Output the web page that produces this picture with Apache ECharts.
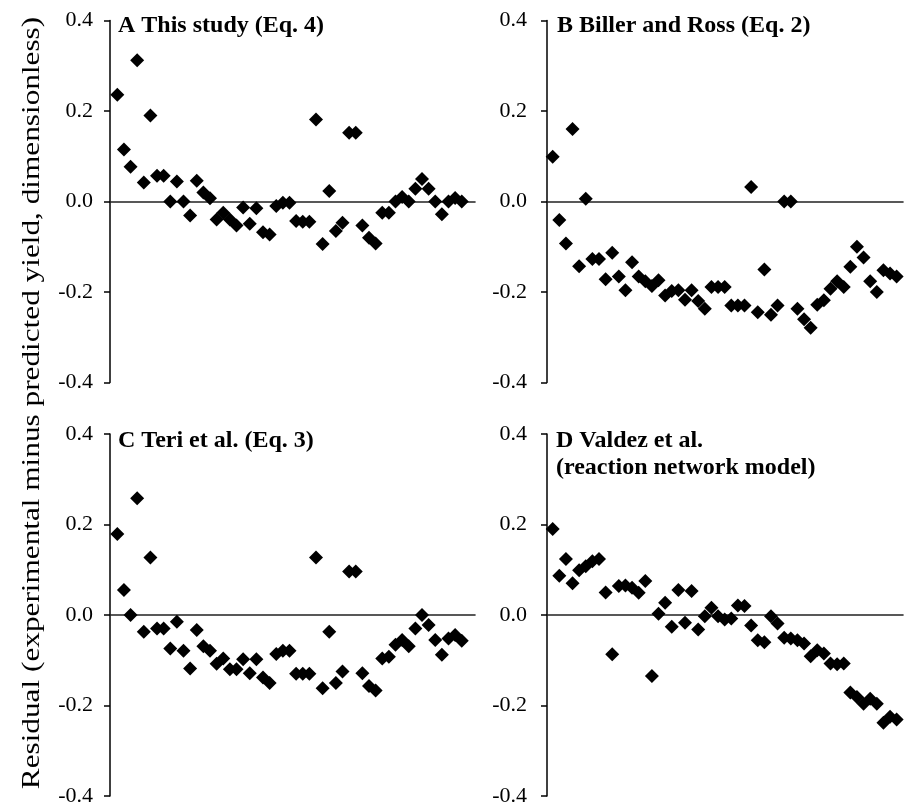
<!DOCTYPE html>
<html>
<head>
<meta charset="utf-8">
<script src="https://cdn.jsdelivr.net/npm/echarts@6/dist/echarts.min.js"></script>
<style>
html,body{margin:0;padding:0;background:#fff;}
#chart{width:907px;height:809px;}
</style>
</head>
<body>
<div id="chart"></div>
<script>
// Residuals (experimental minus predicted yield), one value per experiment, in plotted order
const residualA = [0.236, 0.115, 0.077, 0.312, 0.042, 0.19, 0.057, 0.057, 0.0, 0.044, 0.0, -0.031, 0.046, 0.02, 0.007, -0.04, -0.025, -0.04, -0.053, -0.013, -0.049, -0.015, -0.068, -0.073, -0.01, -0.003, -0.003, -0.043, -0.045, -0.045, 0.181, -0.094, 0.023, -0.065, -0.047, 0.152, 0.152, -0.053, -0.08, -0.093, -0.025, -0.025, 0.0, 0.01, 0.0, 0.028, 0.05, 0.028, 0.0, -0.028, 0.0, 0.008, 0.0];
const residualB = [0.099, -0.041, -0.093, 0.16, -0.143, 0.006, -0.127, -0.127, -0.172, -0.113, -0.166, -0.196, -0.134, -0.166, -0.176, -0.187, -0.174, -0.208, -0.198, -0.196, -0.217, -0.196, -0.22, -0.237, -0.189, -0.189, -0.189, -0.23, -0.23, -0.23, 0.032, -0.245, -0.15, -0.25, -0.23, 0.0, 0.0, -0.237, -0.26, -0.279, -0.228, -0.218, -0.193, -0.176, -0.189, -0.144, -0.1, -0.124, -0.176, -0.2, -0.152, -0.159, -0.166];
const residualC = [0.179, 0.055, 0.0, 0.258, -0.037, 0.127, -0.03, -0.03, -0.074, -0.015, -0.079, -0.118, -0.033, -0.069, -0.079, -0.108, -0.096, -0.12, -0.12, -0.098, -0.129, -0.098, -0.138, -0.15, -0.086, -0.079, -0.079, -0.13, -0.13, -0.13, 0.127, -0.162, -0.037, -0.15, -0.125, 0.096, 0.096, -0.129, -0.157, -0.167, -0.096, -0.092, -0.066, -0.055, -0.069, -0.03, 0.0, -0.022, -0.055, -0.088, -0.052, -0.044, -0.057];
const residualD = [0.19, 0.087, 0.124, 0.07, 0.099, 0.108, 0.119, 0.124, 0.05, -0.087, 0.064, 0.065, 0.06, 0.049, 0.075, -0.135, 0.003, 0.027, -0.026, 0.055, -0.017, 0.053, -0.032, -0.003, 0.016, -0.003, -0.01, -0.008, 0.021, 0.02, -0.023, -0.056, -0.06, -0.003, -0.019, -0.05, -0.052, -0.056, -0.063, -0.091, -0.078, -0.085, -0.107, -0.109, -0.107, -0.171, -0.181, -0.196, -0.185, -0.196, -0.238, -0.225, -0.231];

const panelTitles = ['A This study (Eq. 4)', 'B Biller and Ross (Eq. 2)', 'C Teri et al. (Eq. 3)', 'D Valdez et al.\n(reaction network model)'];
const yTicks = [-0.4, -0.2, 0.0, 0.2, 0.4];
const yAxisTitle = 'Residual (experimental minus predicted yield, dimensionless)';

const SERIF = "'Liberation Serif','Times New Roman',serif";
const panels = [residualA, residualB, residualC, residualD];

const grids = [
  {left: 110, top: 20.5, width: 365, height: 362},
  {left: 547, top: 20.5, width: 356, height: 362},
  {left: 110, top: 434, width: 365, height: 362},
  {left: 547, top: 434, width: 356, height: 362}
];
const xRanges = [[-1.1, 54.0], [-0.86, 52.96], [-1.1, 54.0], [-0.86, 52.96]];
const labelMargins = [17, 20, 17, 20];
const titlePos = [[118, 12], [557, 12], [118, 427], [556, 427]];

const option = {
  animation: false,
  backgroundColor: '#fff',
  title: panelTitles.map((t, i) => ({
    text: t,
    left: titlePos[i][0],
    top: titlePos[i][1],
    padding: 0,
    textStyle: {fontFamily: SERIF, fontWeight: 'bold', fontSize: 24, color: '#000', lineHeight: 27}
  })),
  grid: grids,
  xAxis: grids.map((g, i) => ({
    type: 'value',
    gridIndex: i,
    min: xRanges[i][0],
    max: xRanges[i][1],
    axisLine: {show: true, onZero: true, lineStyle: {color: '#222', width: 1.6}},
    axisTick: {show: false},
    axisLabel: {show: false},
    splitLine: {show: false}
  })),
  yAxis: grids.map((g, i) => ({
    type: 'value',
    gridIndex: i,
    min: yTicks[0],
    max: yTicks[yTicks.length - 1],
    interval: 0.2,
    axisLine: {show: true, onZero: false, lineStyle: {color: '#000', width: 1.5}},
    axisTick: {show: true, inside: false, length: 6, lineStyle: {color: '#000', width: 1.5}},
    axisLabel: {
      fontFamily: SERIF, fontSize: 22, color: '#000', margin: labelMargins[i],
      formatter: v => (Math.abs(v) < 1e-9 ? 0 : v).toFixed(1)
    },
    splitLine: {show: false}
  })),
  graphic: [{
    type: 'text',
    x: 32, y: 403,
    rotation: Math.PI / 2,
    scaleX: 1.25,
    style: {
      text: yAxisTitle,
      font: '25px ' + SERIF,
      fill: '#000',
      textAlign: 'center',
      textVerticalAlign: 'middle'
    }
  }],
  series: panels.map((vals, i) => ({
    type: 'scatter',
    xAxisIndex: i,
    yAxisIndex: i,
    symbol: 'diamond',
    symbolSize: 14,
    itemStyle: {color: '#000', opacity: 1},
    data: vals.map((v, k) => [k, v])
  }))
};

const chart = echarts.init(document.getElementById('chart'), null, {renderer: 'canvas'});
chart.setOption(option);
</script>
</body>
</html>
